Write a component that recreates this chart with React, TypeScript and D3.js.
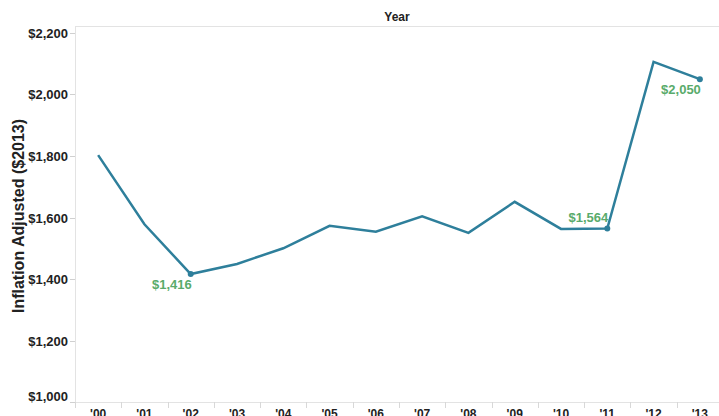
import React from "react";
import * as d3 from "d3";

const years = ["'00", "'01", "'02", "'03", "'04", "'05", "'06", "'07", "'08", "'09", "'10", "'11", "'12", "'13"];
const values = [1803, 1578, 1416, 1449, 1500, 1573, 1554, 1604, 1550, 1651, 1563, 1564, 2106, 2050];
const yTicks = [1000, 1200, 1400, 1600, 1800, 2000, 2200];
const labeled = [
  { year: "'02", value: 1416, text: "$1,416", pos: "below" },
  { year: "'11", value: 1564, text: "$1,564", pos: "above" },
  { year: "'13", value: 2050, text: "$2,050", pos: "below" },
];

const W = 719;
const H = 416;
const left = 75;
const top = 26;
const bottom = 402;
const plotRight = 723;

const FONT = "'Liberation Sans', Arial, Helvetica, sans-serif";
const LINE = "#2e7f9b";
const GREEN = "#59ab6b";
const GRID = "#e3e3e3";

export default function App() {
  const x = d3.scaleBand<string>().domain(years).range([left, plotRight]).padding(0);
  const y = d3.scaleLinear().domain([1000, 2200]).range([bottom, 33]);
  const cx = (yr: string) => (x(yr) as number) + x.bandwidth() / 2;

  const line = d3
    .line<number>()
    .x((_, i) => cx(years[i]))
    .y((d) => y(d));

  return (
    <svg
      width={W}
      height={H}
      style={{ position: "absolute", left: 0, top: 0, background: "#fff" }}
      fontFamily={FONT}
    >
      {/* header */}
      <text x={397} y={21} textAnchor="middle" fontSize={12} fontWeight="bold" fill="#222">
        Year
      </text>
      <line x1={left} x2={W} y1={top + 0.5} y2={top + 0.5} stroke={GRID} strokeWidth={1} />
      {/* left axis line */}
      <line x1={left + 0.5} x2={left + 0.5} y1={top} y2={bottom} stroke={GRID} strokeWidth={1} />
      {/* bottom axis line */}
      <line x1={left} x2={W} y1={bottom + 0.5} y2={bottom + 0.5} stroke={GRID} strokeWidth={1} />

      {/* y ticks */}
      {yTicks.map((t) => {
        const yy = Math.round(y(t)) + 0.5;
        const ly = t === 1000 ? yy - 6 : yy;
        return (
          <g key={t}>
            <line x1={70} x2={left} y1={yy} y2={yy} stroke="#d0d0d0" />
            <text
              x={68}
              y={ly}
              dy="0.35em"
              textAnchor="end"
              fontSize={13}
              fontWeight="bold"
              fill="#222"
            >
              {d3.format("$,")(t)}
            </text>
          </g>
        );
      })}

      {/* y axis title */}
      <text
        transform={`translate(24, 216) rotate(-90)`}
        textAnchor="middle"
        fontSize={16}
        fontWeight="bold"
        fill="#222"
      >
        Inflation Adjusted ($2013)
      </text>

      {/* x ticks */}
      {years.map((yr, i) => {
        const bx = Math.round(x(yr) as number) + 0.5;
        return (
          <g key={yr}>
            {i > 0 && <line x1={bx} x2={bx} y1={bottom} y2={bottom + 6} stroke="#d8d8d8" />}
            <text x={cx(yr)} y={418} textAnchor="middle" fontSize={12} fontWeight="bold" fill="#222">
              {yr}
            </text>
          </g>
        );
      })}
      <line x1={left + 0.5} x2={left + 0.5} y1={bottom} y2={bottom + 6} stroke="#d8d8d8" />

      {/* line */}
      <path d={line(values) || ""} fill="none" stroke={LINE} strokeWidth={2.5} strokeLinejoin="miter" />

      {/* labeled points */}
      {labeled.map((l) => (
        <g key={l.year}>
          <circle cx={cx(l.year)} cy={y(l.value)} r={3} fill={LINE} />
          <text
            x={cx(l.year) + 1}
            y={y(l.value) + (l.pos === "below" ? 15 : -7)}
            textAnchor="end"
            fontSize={13}
            fontWeight="bold"
            fill={GREEN}
          >
            {l.text}
          </text>
        </g>
      ))}
    </svg>
  );
}
